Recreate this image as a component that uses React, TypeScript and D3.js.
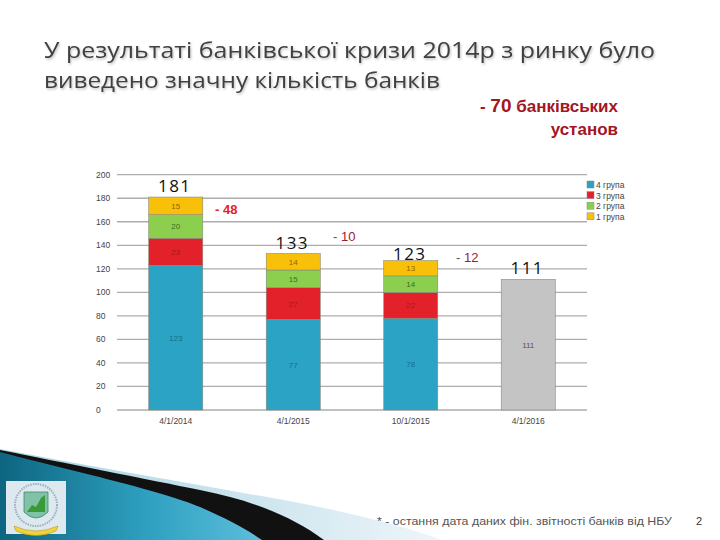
import React from "react";
import * as d3 from "d3";

const dates = ["4/1/2014", "4/1/2015", "10/1/2015", "4/1/2016"];
const group4 = [123, 77, 78, 0];
const group3 = [23, 27, 22, 0];
const group2 = [20, 15, 14, 0];
const group1 = [15, 14, 13, 0];
const otherBanks = [0, 0, 0, 111];
const totals = [181, 133, 123, 111];
const diffs = ["48", "10", "12"];
const yTicks = [0, 20, 40, 60, 80, 100, 120, 140, 160, 180, 200];
const legendLabels = ["4 група", "3 група", "2 група", "1 група"];
const titleLines = [
  "У результаті банківської кризи 2014р з ринку було",
  "виведено значну кількість банків",
];

const seriesKeys = ["g4", "g3", "g2", "g1", "other"];
const fills: Record<string, string> = {
  g4: "#2ba3c5",
  g3: "#e2212b",
  g2: "#8ccf4f",
  g1: "#f8c009",
  other: "#c4c4c4",
};
const labelColors: Record<string, string> = {
  g4: "#1b6e8c",
  g3: "#b3141c",
  g2: "#3f6d20",
  g1: "#946400",
  other: "#555",
};

export default function App() {
  const rows = dates.map((d, i) => ({
    date: d,
    g4: group4[i],
    g3: group3[i],
    g2: group2[i],
    g1: group1[i],
    other: otherBanks[i],
  }));
  const stacked = d3.stack<any>().keys(seriesKeys)(rows);

  const x = d3
    .scaleBand<string>()
    .domain(dates)
    .range([117, 587])
    .paddingInner(0.54)
    .paddingOuter(0.27);
  const y = d3.scaleLinear().domain([0, 200]).range([410, 174.7]);
  const bw = x.bandwidth();
  const cx = (d: string) => (x(d) as number) + bw / 2;

  const lightTop = "M0,449 C100,468 200,485 300,503 C360,515 410,528 442,540 L0,540 Z";
  const blackTop = "M0,450 C60,462 150,480 200,490 C250,500 290,515 324,540 L0,540 Z";
  const tealTop = "M0,452 C60,468 160,490 200,507 C225,518 245,528 262,540 L0,540 Z";

  return (
    <svg
      width={720}
      height={540}
      style={{ position: "absolute", left: 0, top: 0, background: "#fff" }}
      fontFamily="'Liberation Sans', Arial, sans-serif"
    >
      <defs>
        <linearGradient id="teal" x1="0" y1="0" x2="1" y2="0">
          <stop offset="0" stopColor="#0d6580" />
          <stop offset="0.55" stopColor="#2e9fc0" />
          <stop offset="1" stopColor="#5cbedb" />
        </linearGradient>
        <linearGradient id="lightb" x1="0" y1="0" x2="1" y2="0">
          <stop offset="0" stopColor="#a8d4e3" />
          <stop offset="0.6" stopColor="#cfe6ef" />
          <stop offset="1" stopColor="#eef6f9" />
        </linearGradient>
        <filter id="sh" x="-5%" y="-20%" width="110%" height="140%">
          <feDropShadow dx="1" dy="1.5" stdDeviation="0.8" floodColor="#000" floodOpacity="0.25" />
        </filter>
      </defs>

      {/* Title */}
      <g fill="#404040" fontFamily="'Open Sans', 'DejaVu Sans', sans-serif" fontSize={22} filter="url(#sh)">
        <text x={44} y={58} textLength={611} lengthAdjust="spacingAndGlyphs">
          {titleLines[0]}
        </text>
        <text x={44} y={88} textLength={396} lengthAdjust="spacingAndGlyphs">
          {titleLines[1]}
        </text>
      </g>

      {/* Top-right annotation */}
      <g fill="#a3161f" fontWeight="bold" fontSize={17} textAnchor="end">
        <text x={618} y={112}>
          - <tspan fontSize={19}>70</tspan> банківських
        </text>
        <text x={618} y={135}>установ</text>
      </g>

      {/* Gridlines and y ticks */}
      {yTicks.map((t) => (
        <g key={t}>
          <line x1={117} x2={587} y1={y(t)} y2={y(t)} stroke="#adadad" strokeWidth={1.3} />
          <text x={96} y={y(t) + 3} fontSize={8.5} fill="#444">
            {t}
          </text>
        </g>
      ))}

      {/* Bars */}
      {stacked.map((s) =>
        s.map((seg, i) => {
          const v = seg[1] - seg[0];
          if (v <= 0) return null;
          const d = dates[i];
          return (
            <g key={s.key + i}>
              <rect
                x={x(d)}
                y={y(seg[1])}
                width={bw}
                height={y(seg[0]) - y(seg[1])}
                fill={fills[s.key]}
                stroke="#8a8a7a"
                strokeWidth={0.6}
              />
              <text
                x={cx(d)}
                y={(y(seg[0]) + y(seg[1])) / 2 + 3}
                textAnchor="middle"
                fontSize={8}
                fill={labelColors[s.key]}
              >
                {v}
              </text>
            </g>
          );
        })
      )}

      {/* X labels */}
      {dates.map((d) => (
        <text key={d} x={cx(d)} y={424} textAnchor="middle" fontSize={8.5} fill="#444">
          {d}
        </text>
      ))}

      {/* Totals */}
      {dates.map((d, i) => (
        <text
          key={"t" + d}
          x={cx(d) - 1}
          y={y(totals[i]) - 5}
          textAnchor="middle"
          fontSize={17}
          letterSpacing={1.5}
          fill="#111"
          fontFamily="'Open Sans', 'DejaVu Sans', sans-serif"
        >
          {totals[i]}
        </text>
      ))}

      {/* Differences */}
      <text x={215} y={214} fontSize={13} fontWeight="bold" fill="#e4202a">
        - {diffs[0]}
      </text>
      <text x={333} y={241} fontSize={13} fill="#9c1a36">
        <tspan fill="#555">- </tspan>
        {diffs[1]}
      </text>
      <text x={456} y={262} fontSize={13} fill="#9c1a36">
        <tspan fill="#555">- </tspan>
        {diffs[2]}
      </text>

      {/* Legend */}
      {legendLabels.map((l, i) => (
        <g key={l} transform={`translate(587, ${181 + i * 10.6})`}>
          <rect width={7} height={7} fill={fills[seriesKeys[i]]} stroke="#888" strokeWidth={0.5} />
          <text x={9} y={7} fontSize={8.5} fill="#444">
            {l}
          </text>
        </g>
      ))}

      {/* Bottom decoration */}
      <path d={lightTop} fill="url(#lightb)" />
      <path d={blackTop} fill="#111" />
      <path d={tealTop} fill="url(#teal)" />

      {/* Logo */}
      <g>
        <rect x={6} y={481} width={60} height={53} fill="#dde9ee" />
        <circle cx={36} cy={505} r={21} fill="none" stroke="#9bb0c0" strokeWidth={2} strokeDasharray="1.5 1" />
        <path d="M24,492 L48,492 L48,512 Q36,524 24,512 Z" fill="#7fc2a6" stroke="#3d8a6c" strokeWidth={0.8} />
        <path d="M27,512 L32,505 L36,507 L41,498 L45,495 L45,512 Z" fill="#3a9a3a" />
        <path d="M14,526 Q36,536 58,526 L56,531 Q36,540 16,531 Z" fill="#f2d23a" stroke="#b89a10" strokeWidth={0.6} />
      </g>

      {/* Footer */}
      <text x={377} y={525} fontSize={10.5} fill="#555" textLength={295} lengthAdjust="spacingAndGlyphs">
        * -  остання дата даних фін. звітності банків від НБУ
      </text>
      <text x={696} y={525} fontSize={11} fill="#333">
        2
      </text>
    </svg>
  );
}
